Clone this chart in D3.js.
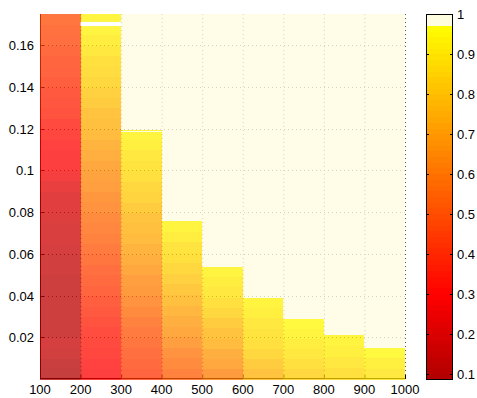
<!DOCTYPE html>
<html>
<head>
<meta charset="utf-8">
<script src="https://cdn.jsdelivr.net/npm/d3@7"></script>
<style>
  body { margin: 0; background: #fff; }
  text { font-family: "Liberation Sans", Arial, sans-serif; font-size: 13px; fill: #000; }
</style>
</head>
<body>
<svg id="chart" width="477" height="398"></svg>
<script>
// column edges along x
const xEdges = [100, 200, 300, 400, 500, 600, 700, 800, 900, 1000];
// top of the coloured part of each column (y units)
const colTop = [0.175, 0.175, 0.1198, 0.076, 0.054, 0.039, 0.029, 0.0214, 0.0152];
// cell values per column, from bottom up (each column split evenly up to colTop)
const col1 = [0.10, 0.11, 0.14, 0.15, 0.13, 0.12, 0.12, 0.13, 0.12, 0.13, 0.14, 0.14, 0.15, 0.16, 0.17, 0.18, 0.19, 0.20,
              0.23, 0.26, 0.29, 0.30, 0.31, 0.32, 0.34, 0.36, 0.38, 0.39, 0.41, 0.42, 0.44, 0.45, 0.46, 0.48, 0.50];
const col2 = [0.30, 0.31, 0.32, 0.33, 0.35, 0.37, 0.39, 0.41, 0.43, 0.45, 0.47, 0.49, 0.51, 0.53, 0.55, 0.57, 0.59, 0.61,
              0.63, 0.65, 0.67, 0.69, 0.71, 0.73, 0.75, 0.77, 0.79, 0.81, 0.83, 0.85, 0.87, 0.89, 0.91, 0.93, 0.94];
const col3 = [0.44, 0.45, 0.47, 0.49, 0.51, 0.54, 0.57, 0.60, 0.62, 0.64, 0.67, 0.69, 0.71, 0.73, 0.75, 0.77, 0.80, 0.82,
              0.84, 0.86, 0.88, 0.90, 0.92, 0.94];
const col4 = [0.54, 0.57, 0.60, 0.63, 0.66, 0.69, 0.72, 0.75, 0.78, 0.81, 0.84, 0.86, 0.88, 0.91, 0.93];
const col5 = [0.62, 0.66, 0.70, 0.73, 0.77, 0.80, 0.83, 0.86, 0.89, 0.91, 0.94];
const col6 = [0.77, 0.80, 0.83, 0.86, 0.88, 0.90, 0.92, 0.94];
const col7 = [0.84, 0.87, 0.89, 0.91, 0.93, 0.95];
const col8 = [0.87, 0.90, 0.92, 0.94];
const col9 = [0.89, 0.92, 0.95];
const colVals = [col1, col2, col3, col4, col5, col6, col7, col8, col9];
// missing rows (drawn white)
const gapCol = [1, 2];
const gapLo = [0.1692, 0.1185];
const gapHi = [0.1712, 0.1189];
// ticks
const xTicks = [100, 200, 300, 400, 500, 600, 700, 800, 900, 1000];
const yTicks = [0.02, 0.04, 0.06, 0.08, 0.1, 0.12, 0.14, 0.16];
const cTicks = [0.1, 0.2, 0.3, 0.4, 0.5, 0.6, 0.7, 0.8, 0.9, 1];
const cRange = [0.0875, 1];

const svg = d3.select('#chart');
const pL = 40, pR = 405, pT = 14, pB = 379;

const x = d3.scaleLinear().domain([100, 1000]).range([pL, pR]);
const y = d3.scaleLinear().domain([0, 0.175]).range([pB, pT]);
const cy = d3.scaleLinear().domain(cRange).range([pB, pT]);

// colormap: 64 levels, dark red -> red -> yellow, top two levels cream
const nLev = 64;
const ramp = d3.scaleLinear().domain([0.0875, 0.3, 0.9717]).range(['#b00000', '#ff0000', '#ffff00']).clamp(true);
function level(v) {
  let k = Math.floor((v - cRange[0]) / (cRange[1] - cRange[0]) * nLev);
  return Math.max(0, Math.min(nLev - 1, k));
}
function levColor(k) {
  if (k >= 62) return '#fffde0';
  const v = cRange[0] + (k + 0.5) / nLev * (cRange[1] - cRange[0]);
  return ramp(v);
}
const color = v => levColor(level(v));

// grid (under the image)
const grid = svg.append('g');
grid.selectAll('.gx').data(xTicks.slice(1)).enter().append('line')
  .attr('x1', d => x(d) + 0.5).attr('x2', d => x(d) + 0.5)
  .attr('y1', pT).attr('y2', pB)
  .attr('stroke', '#555').attr('stroke-dasharray', '1,3');
grid.selectAll('.gy').data(yTicks).enter().append('line')
  .attr('x1', pL).attr('x2', pR)
  .attr('y1', d => Math.round(y(d)) + 0.5).attr('y2', d => Math.round(y(d)) + 0.5)
  .attr('stroke', '#555').attr('stroke-dasharray', '1,3');

// axes lines + inner ticks (also under)
grid.append('line').attr('x1', pL + 0.5).attr('x2', pL + 0.5).attr('y1', pT).attr('y2', pB).attr('stroke', '#000');
grid.append('line').attr('x1', pL).attr('x2', pR).attr('y1', pB - 0.5).attr('y2', pB - 0.5).attr('stroke', '#000');
grid.selectAll('.ty').data(yTicks).enter().append('line')
  .attr('x1', pL).attr('x2', pL + 4)
  .attr('y1', d => Math.round(y(d)) + 0.5).attr('y2', d => Math.round(y(d)) + 0.5)
  .attr('stroke', '#000');
grid.selectAll('.tx').data(xTicks).enter().append('line')
  .attr('x1', d => x(d) + 0.5).attr('x2', d => x(d) + 0.5)
  .attr('y1', pB).attr('y2', pB - 4)
  .attr('stroke', '#000');

// cells
const cells = [];
colVals.forEach((vals, c) => {
  const h = colTop[c] / vals.length;
  vals.forEach((v, i) => cells.push({ x0: xEdges[c], x1: xEdges[c + 1], y0: i * h, y1: (i + 1) * h, v: v }));
  if (colTop[c] < 0.175) cells.push({ x0: xEdges[c], x1: xEdges[c + 1], y0: colTop[c], y1: 0.175, v: 1 });
});

const img = svg.append('g').attr('opacity', 0.75).attr('shape-rendering', 'crispEdges');
img.selectAll('rect').data(cells).enter().append('rect')
  .attr('x', d => x(d.x0))
  .attr('width', d => x(d.x1) - x(d.x0))
  .attr('y', d => y(d.y1))
  .attr('height', d => y(d.y0) - y(d.y1) + 0.5)
  .attr('fill', d => color(d.v));

svg.selectAll('.gap').data(gapCol).enter().append('rect')
  .attr('x', d => x(xEdges[d]))
  .attr('width', d => x(xEdges[d + 1]) - x(xEdges[d]))
  .attr('y', (d, i) => y(gapHi[i]))
  .attr('height', (d, i) => y(gapLo[i]) - y(gapHi[i]))
  .attr('fill', '#fff');

// tick labels
svg.selectAll('.lx').data(xTicks).enter().append('text')
  .attr('x', d => x(d)).attr('y', 394)
  .attr('text-anchor', 'middle')
  .text(d => d);
svg.selectAll('.ly').data(yTicks).enter().append('text')
  .attr('x', 34).attr('y', d => y(d) + 5)
  .attr('text-anchor', 'end')
  .text(d => d);

// colorbar
const cbX = 426, cbW = 26;
const levs = d3.range(nLev);
svg.append('g').attr('shape-rendering', 'crispEdges').selectAll('rect').data(levs).enter().append('rect')
  .attr('x', cbX)
  .attr('width', cbW)
  .attr('y', k => cy(cRange[0] + (k + 1) / nLev * (cRange[1] - cRange[0])))
  .attr('height', k => cy(cRange[0] + k / nLev * (cRange[1] - cRange[0])) - cy(cRange[0] + (k + 1) / nLev * (cRange[1] - cRange[0])) + 0.5)
  .attr('fill', k => levColor(k));
svg.append('rect')
  .attr('x', cbX + 0.5).attr('y', pT + 0.5)
  .attr('width', cbW).attr('height', pB - pT)
  .attr('fill', 'none').attr('stroke', '#000');
svg.selectAll('.ct').data(cTicks).enter().append('path')
  .attr('d', d => {
    const yy = Math.round(cy(d)) + 0.5;
    return `M${cbX},${yy}h3M${cbX + cbW - 2},${yy}h3`;
  })
  .attr('stroke', '#000');
svg.selectAll('.cl').data(cTicks).enter().append('text')
  .attr('x', 457).attr('y', d => cy(d) + 5)
  .text(d => d);
</script>
</body>
</html>
